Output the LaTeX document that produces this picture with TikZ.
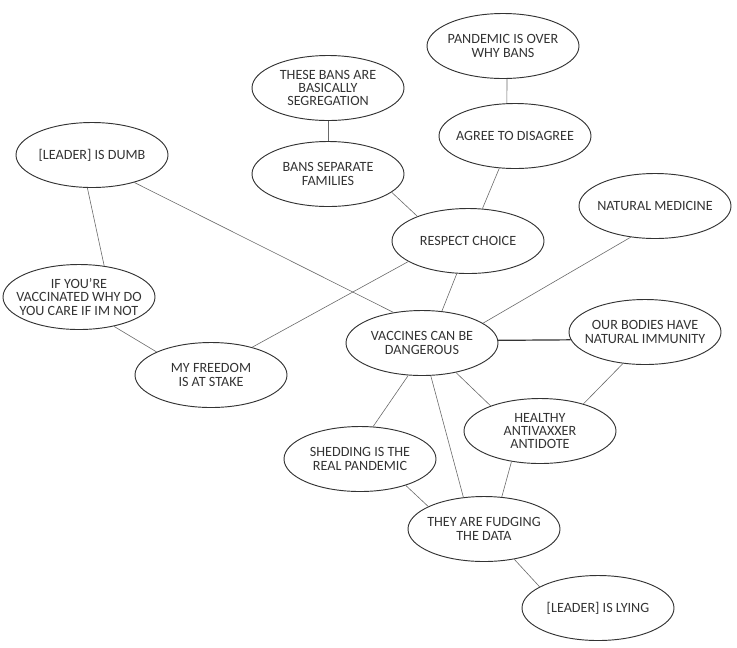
\documentclass[tikz,border=0pt]{standalone}
\usepackage{fontspec}
\setmainfont{Carlito}
\usepackage{xcolor}
\usepackage{tikz}
\usetikzlibrary{shapes.geometric}

\definecolor{inkgray}{HTML}{333333}
\definecolor{linkgray}{HTML}{6A6A6A}

\tikzset{
  belief/.style={ellipse, draw=inkgray, line width=0.7pt, text=inkgray,
    minimum width=114pt, minimum height=48.75pt, inner xsep=-12pt, inner ysep=0pt,
    align=center, font=\fontsize{10.6}{10}\selectfont},
  link/.style={draw=linkgray, line width=0.45pt},
  strong/.style={draw=inkgray, line width=0.9pt}
}

\begin{document}
\begin{tikzpicture}[x=0.75pt, y=-0.75pt]
  \useasboundingbox (0,0) rectangle (737,647);
  % beliefs, placed at pixel coordinates of the map
  \node[belief] (dumb)       at (92,155)  {[LEADER] IS DUMB};
  \node[belief] (vaccinated) at (79,297)  {IF YOU'RE\\VACCINATED WHY DO\\YOU CARE IF IM NOT};
  \node[belief] (freedom)    at (211,375) {MY FREEDOM\\IS AT STAKE};
  \node[belief] (segregate)  at (328,88)  {THESE BANS ARE\\BASICALLY\\SEGREGATION};
  \node[belief] (families)   at (328,174) {BANS SEPARATE\\FAMILIES};
  \node[belief] (over)       at (503,46)  {PANDEMIC IS OVER\\WHY BANS};
  \node[belief] (agree)      at (515,136) {AGREE TO DISAGREE};
  \node[belief] (choice)     at (468,241) {RESPECT CHOICE};
  \node[belief] (medicine)   at (655,206) {NATURAL MEDICINE};
  \node[belief] (danger)     at (422,343) {VACCINES CAN BE\\DANGEROUS};
  \node[belief] (immunity)   at (645,332) {OUR BODIES HAVE\\NATURAL IMMUNITY};
  \node[belief] (antidote)   at (540,431) {HEALTHY\\ANTIVAXXER\\ANTIDOTE};
  \node[belief] (shedding)   at (360,459) {SHEDDING IS THE\\REAL PANDEMIC};
  \node[belief] (fudging)    at (484,529) {THEY ARE FUDGING\\THE DATA};
  \node[belief] (lying)      at (598,608) {[LEADER] IS LYING};

  % connections
  \draw[link] (dumb.262) -- (vaccinated.51);
  \draw[link] (dumb.327) -- (danger.133);
  \draw[link] (vaccinated.320) -- (freedom.157);
  \draw[link] (freedom.34) -- (choice.199);
  \draw[link] (segregate.south) -- (families.north);
  \draw[link] (families.344) -- (choice.154);
  \draw[link] (over.277) -- (agree.104);
  \draw[link] (agree.244) -- (choice.66);
  \draw[link] (choice.251) -- (danger.58);
  \draw[link] (medicine.232) -- (danger.18);
  \draw[strong] (danger.2) -- (immunity.186);
  \draw[link] (immunity.235) -- (antidote.32);
  \draw[link] (danger.319) -- (antidote.153);
  \draw[link] (danger.247) -- (shedding.68);
  \draw[link] (danger.285) -- (fudging.123);
  \draw[link] (antidote.227) -- (fudging.61);
  \draw[link] (shedding.330) -- (fudging.158);
  \draw[link] (fudging.315) -- (lying.160);
\end{tikzpicture}
\end{document}
